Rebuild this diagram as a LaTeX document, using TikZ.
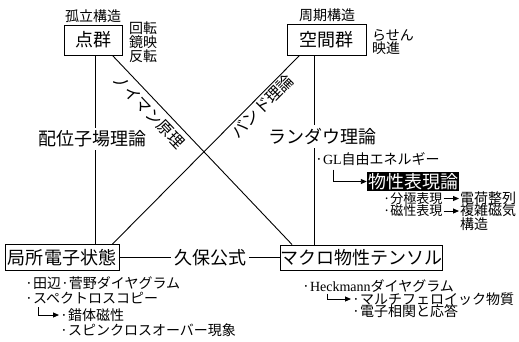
\documentclass[tikz,border=0pt]{standalone}
\usepackage{fontspec}
\setmainfont{Noto Sans CJK JP}
\newfontfamily\latserif{Liberation Serif}
\usetikzlibrary{arrows.meta,calc}
\begin{document}
\begin{tikzpicture}[x=1pt,y=-1pt,
  box/.style={draw,line width=0.9pt,inner sep=0pt,font=\fontsize{18}{18}\selectfont},
  big/.style={font=\fontsize{18}{18}\selectfont,inner sep=1pt},
  diag/.style={font=\fontsize{16}{16}\selectfont},
  small/.style={font=\fontsize{14}{13.7}\selectfont,inner sep=0pt},
  smaller/.style={font=\fontsize{13}{13}\selectfont,inner sep=0pt},
  ln/.style={line width=0.9pt},
  arr/.style={line width=0.9pt,-{Triangle[length=6pt,width=5pt]}}
]
\useasboundingbox (0,0) rectangle (519,341);
\fill[white] (0,0) rectangle (519,341);

% main boxes
\node[box,minimum width=58pt,minimum height=30pt] (pg) at (93,40) {点群};
\node[box,minimum width=79pt,minimum height=31pt] (sg) at (326.5,39.5) {空間群};
\node[box,minimum width=114pt,minimum height=26pt] (lo) at (62,257.5) {局所電子状態};
\node[box,minimum width=151pt,minimum height=25pt] (mt) at (361.5,257.5) {マクロ物性テンソル};

% annotations near top boxes
\node[small] (iso) at (93,16) {孤立構造};
\node[small,anchor=west,align=left] (rot) at (129,42) {回転\\鏡映\\反転};
\node[small] (per) at (327,15) {周期構造};
\node[small,anchor=west,align=left] (hel) at (372,42) {らせん\\映進};

% vertical connectors
\draw[ln] ([xshift=2pt]pg.south) -- node[pos=0.444,fill=white,big,inner sep=3pt,xshift=-2.5pt] (lf) {配位子場理論} ([xshift=2pt]pg.south |- lo.north);
\draw[ln] ([xshift=-12.5pt]sg.south) -- node[pos=0.43,fill=white,big,inner sep=3pt,xshift=8pt] (ld) {ランダウ理論} ([xshift=-12.5pt]sg.south |- mt.north);

% diagonal connectors
\draw[ln] ([xshift=-10pt]pg.south east) -- node[pos=0.25,sloped,below,diag,inner sep=5pt] (nm) {ノイマン原理} ([xshift=12pt]mt.north west);
\draw[ln] ([xshift=-7pt]lo.north east) -- node[pos=0.765,sloped,below,diag,inner sep=1.5pt] (bd) {バンド理論} ([xshift=13pt]sg.south west);

% Kubo formula
\node[big,inner sep=3pt] (kb) at (210,257.5) {久保公式};
\draw[ln] (lo.east) -- (kb.west);
\draw[ln] (kb.east) -- (mt.west);

% Landau branch
\node[small,anchor=west] (gl) at (315,159) {·{\latserif GL}自由エネルギー};
\node[fill=black,text=white,font=\fontsize{18}{18}\selectfont,inner sep=1pt,minimum height=18pt] (bs) at (413,181.5) {物性表現論};
\draw[arr] ([xshift=18pt,yshift=-4pt]gl.south west) |- (bs.west);
\node[smaller,anchor=west] (p1) at (383,198.5) {·分極表現};
\node[smaller,anchor=west] (p2) at (383,211) {·磁性表現};
\node[small,anchor=west] (c1) at (460,198.5) {電荷整列};
\node[small,anchor=west,align=left] (c2) at (460,217) {複雑磁気\\構造};
\draw[arr] ([xshift=1pt]p1.east) -- ([xshift=-1pt]c1.west);
\draw[arr] ([xshift=1pt]p2.east) -- ([xshift=-1pt]p2.east -| c2.west);

% below local electronic state
\node[small,anchor=west] (t1) at (25,283.5) {·田辺·菅野ダイヤグラム};
\node[small,anchor=west] (t2) at (25,298) {·スペクトロスコピー};
\node[small,anchor=west] (t3) at (60,315) {·錯体磁性};
\node[small,anchor=west] (t4) at (60,330) {·スピンクロスオーバー現象};
\draw[arr] ([xshift=13pt,yshift=-3pt]t2.south west) |- ([xshift=-1pt]t3.west);

% below macro tensor
\node[small,anchor=west] (h1) at (302,286) {·{\latserif Heckmann}ダイヤグラム};
\node[small,anchor=west] (h2) at (352,299) {·マルチフェロイック物質};
\node[small,anchor=west] (h3) at (352,311) {·電子相関と応答};
\draw[arr] ([xshift=25pt,yshift=-1pt]h1.south west) |- ([xshift=-1pt]h2.west);
\end{tikzpicture}
\end{document}
